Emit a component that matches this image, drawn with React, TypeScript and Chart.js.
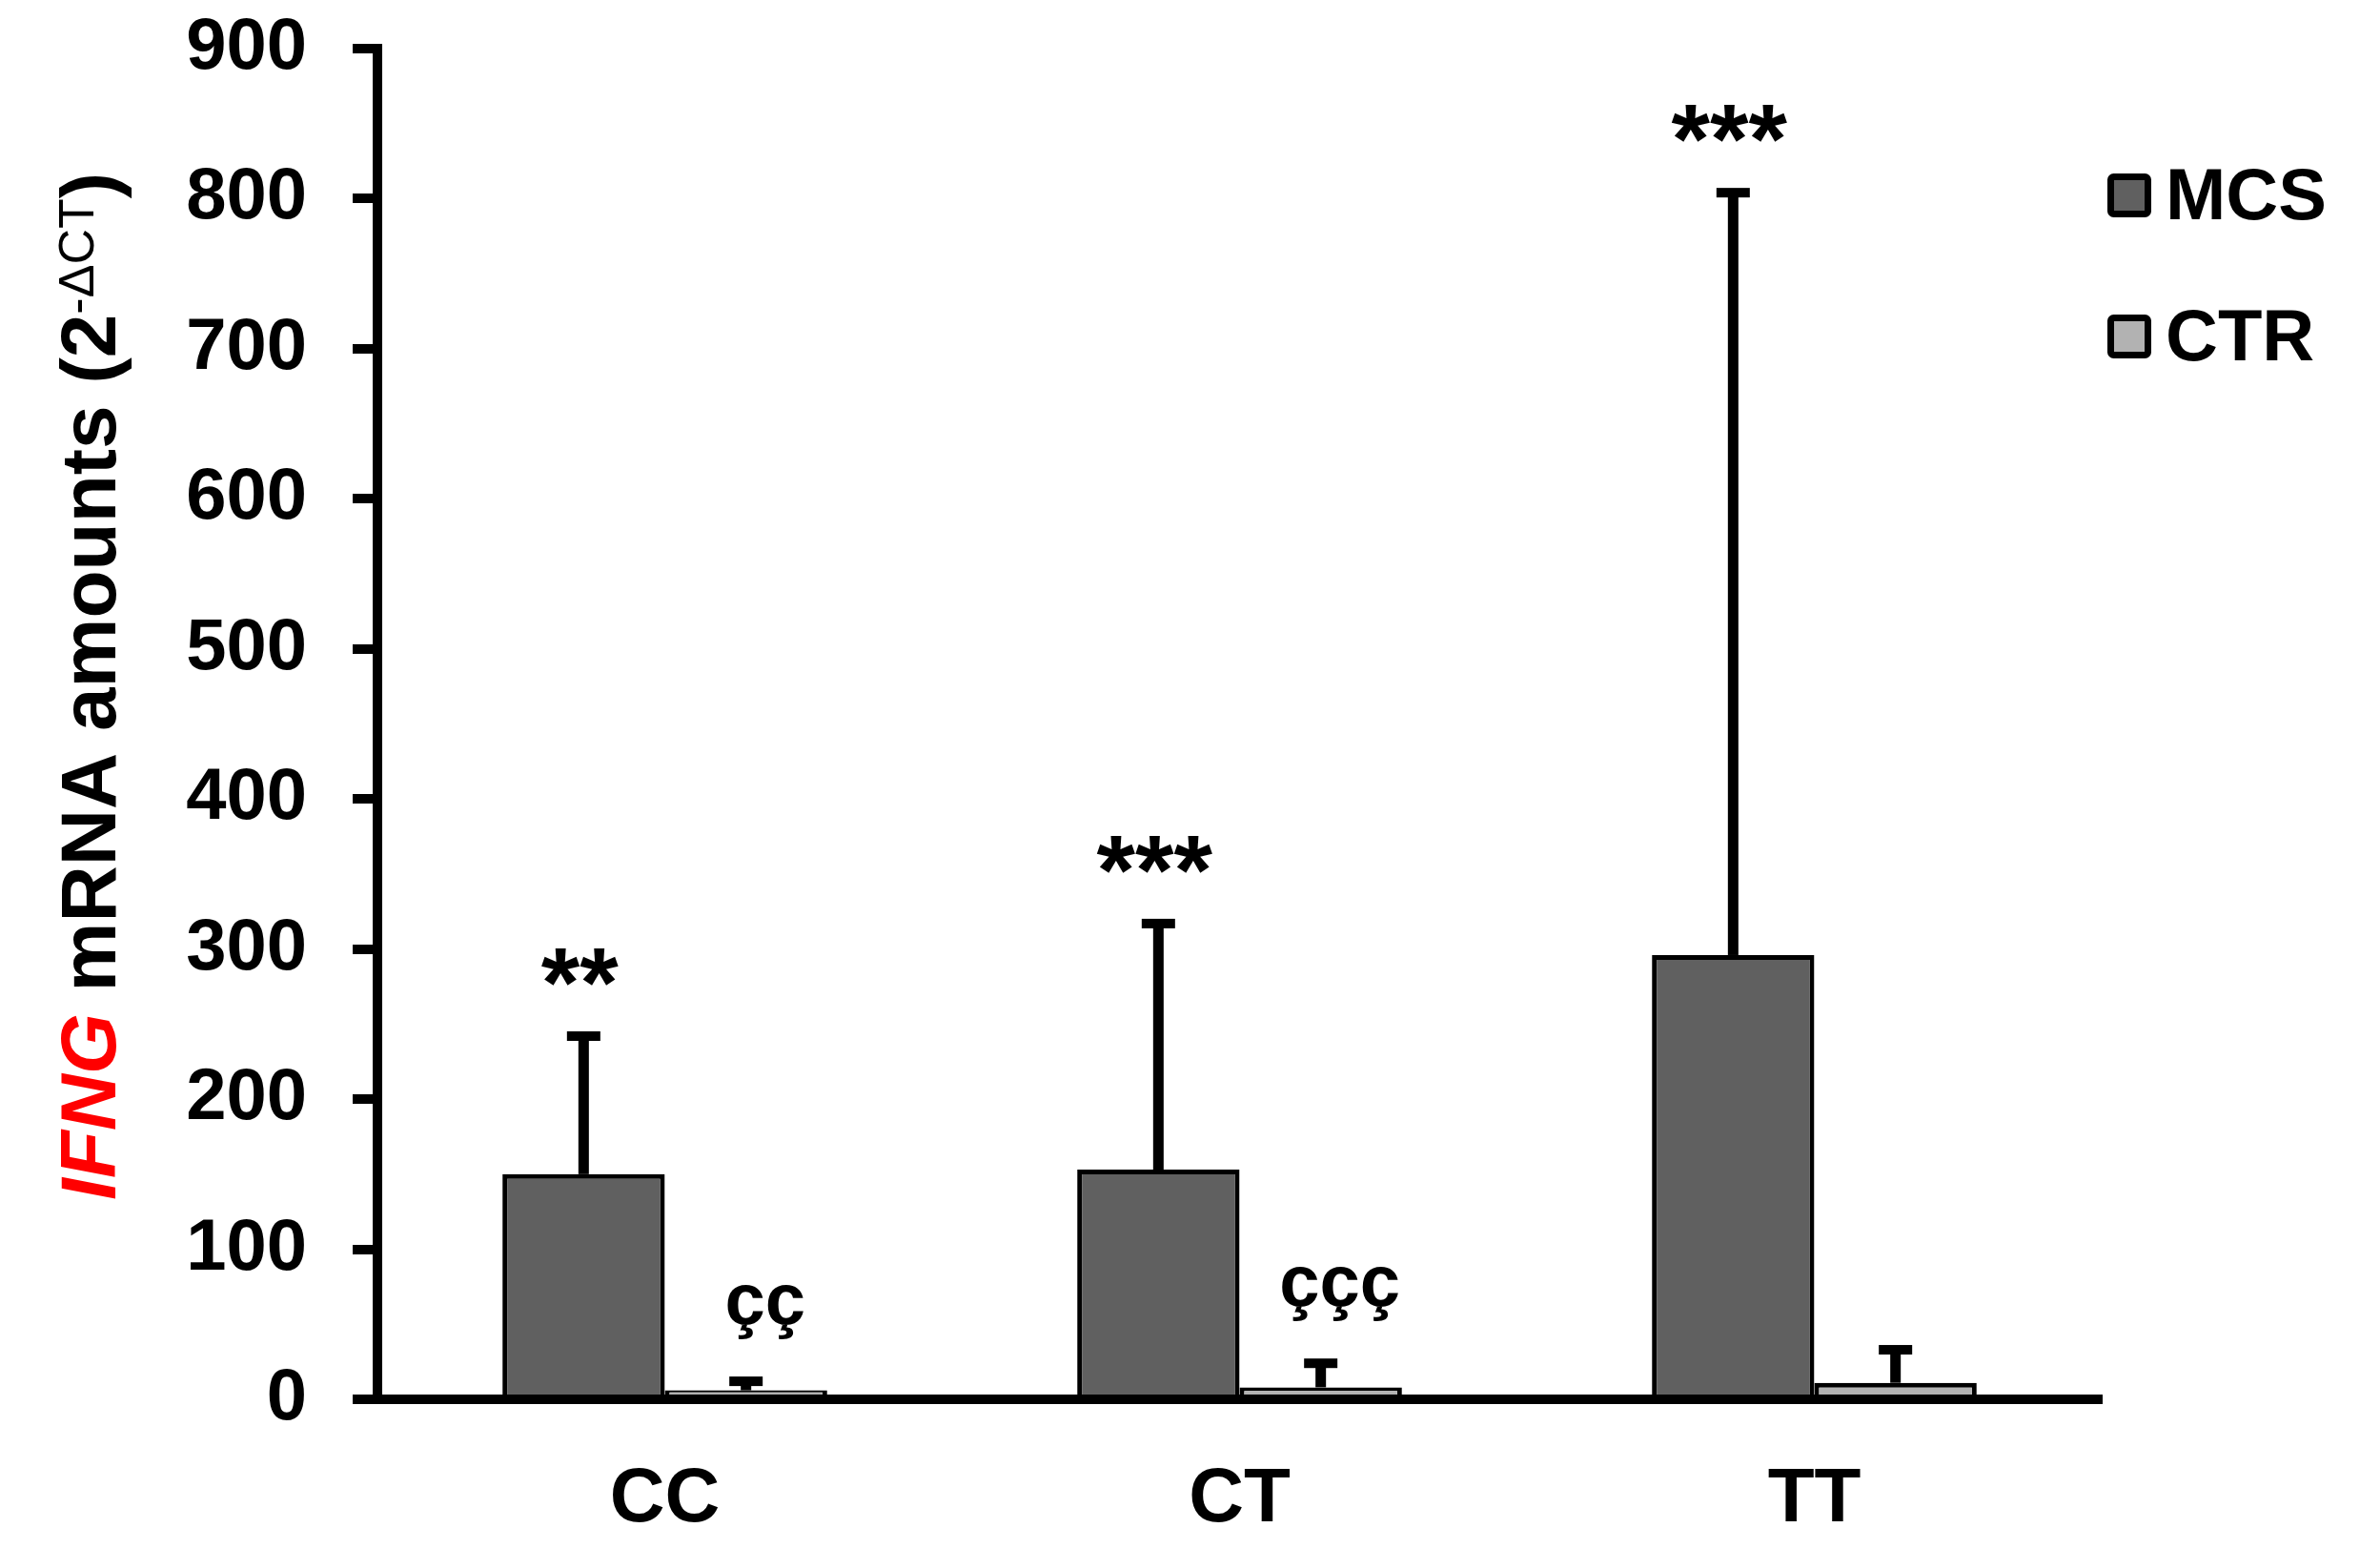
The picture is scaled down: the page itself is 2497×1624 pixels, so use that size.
import React, { useEffect, useRef } from 'react'
import { Chart, registerables } from 'chart.js'

Chart.register(...registerables)

// data
const genotypes = ['CC', 'CT', 'TT']
const seriesNames = ['MCS', 'CTR']
const mcsMeans = [150, 153, 296]
const mcsErrors = [92, 164, 508]
const ctrMeans = [6, 8, 11]
const ctrErrors = [6, 16, 22]
const mcsMarks = ['**', '***', '***']
const ctrMarks = ['çç', 'ççç', '']
const yMax = 900
const yStep = 100

const FONT = '"Liberation Sans", Arial, sans-serif'
const seriesColors = ['#606060', '#b2b2b2']

const errorBarsPlugin = {
  id: 'errorBars',
  afterDatasetsDraw(chart: any) {
    const ctx = chart.ctx
    const yScale = chart.scales.y
    ctx.save()
    chart.data.datasets.forEach((ds: any, di: number) => {
      const meta = chart.getDatasetMeta(di)
      meta.data.forEach((bar: any, i: number) => {
        const top = yScale.getPixelForValue(ds.data[i] + ds.errors[i])
        ctx.fillStyle = '#000'
        ctx.fillRect(bar.x - 5.5, top, 11, bar.y - top)
        ctx.fillRect(bar.x - 17.5, top - 5, 35, 10)

        const mark = ds.marks[i]
        if (!mark) return
        ctx.textAlign = 'center'
        ctx.textBaseline = 'alphabetic'
        if (mark.startsWith('*')) {
          ctx.font = `bold 104px ${FONT}`
          ctx.fillText(mark, bar.x - 4, top - 20)
        } else {
          ctx.font = `bold 76px ${FONT}`
          ctx.fillText(mark, bar.x + 20, top - 60)
        }
      })
    })
    ctx.restore()
  },
}

const legendPlugin = {
  id: 'sideLegend',
  afterDraw(chart: any) {
    const ctx = chart.ctx
    ctx.save()
    chart.data.datasets.forEach((ds: any, di: number) => {
      const cy = 205 + di * 148
      ctx.fillStyle = ds.backgroundColor
      ctx.strokeStyle = '#000'
      ctx.lineWidth = 7
      ctx.beginPath()
      ctx.roundRect(2214.5, cy - 19.5, 39, 39, 3)
      ctx.fill()
      ctx.stroke()
      ctx.fillStyle = '#000'
      ctx.font = `bold 76px ${FONT}`
      ctx.textAlign = 'left'
      ctx.textBaseline = 'alphabetic'
      ctx.fillText(ds.label, 2272, cy + 25)
    })
    ctx.restore()
  },
}

const yTitlePlugin = {
  id: 'yTitle',
  afterDraw(chart: any) {
    const ctx = chart.ctx
    const parts = [
      { text: 'IFNG', font: `italic bold 82px ${FONT}`, color: '#ff0000', rise: 0 },
      { text: ' mRNA amounts (2', font: `bold 82px ${FONT}`, color: '#000', rise: 0 },
      { text: '-ΔCT', font: `52px ${FONT}`, color: '#000', rise: 23 },
      { text: ')', font: `bold 82px ${FONT}`, color: '#000', rise: 0 },
    ]
    ctx.save()
    let total = 0
    const widths = parts.map((p) => {
      ctx.font = p.font
      const w = ctx.measureText(p.text).width
      total += w
      return w
    })
    ctx.translate(121, 720)
    ctx.rotate(-Math.PI / 2)
    ctx.textAlign = 'left'
    ctx.textBaseline = 'alphabetic'
    let x = -total / 2
    parts.forEach((p, i) => {
      ctx.font = p.font
      ctx.fillStyle = p.color
      ctx.fillText(p.text, x, -p.rise)
      x += widths[i]
    })
    ctx.restore()
  },
}

const App = () => {
  const chartRef = useRef<HTMLCanvasElement>(null)

  useEffect(() => {
    if (!chartRef.current) return
    const ctx = chartRef.current.getContext('2d')
    if (!ctx) return

    const chart = new Chart(ctx, {
      type: 'bar',
      data: {
        labels: genotypes,
        datasets: [
          {
            label: seriesNames[0],
            data: mcsMeans,
            errors: mcsErrors,
            marks: mcsMarks,
            backgroundColor: seriesColors[0],
            borderColor: '#000',
            borderWidth: 5,
          },
          {
            label: seriesNames[1],
            data: ctrMeans,
            errors: ctrErrors,
            marks: ctrMarks,
            backgroundColor: seriesColors[1],
            borderColor: '#000',
            borderWidth: 5,
          },
        ] as any,
      },
      options: {
        animation: false,
        responsive: true,
        maintainAspectRatio: false,
        layout: { padding: { top: 51, right: 292, bottom: 0, left: 0 } },
        categoryPercentage: 0.565,
        barPercentage: 1,
        plugins: {
          legend: { display: false },
          tooltip: { enabled: false },
        },
        scales: {
          x: {
            grid: { display: true, drawOnChartArea: false, drawTicks: false },
            border: { display: true, color: '#000', width: 10 },
            ticks: {
              color: '#000',
              padding: 58,
              font: { family: FONT, size: 80, weight: 'bold' },
            },
            afterFit: (scale: any) => {
              scale.height = 156
            },
          },
          y: {
            min: 0,
            max: yMax,
            ticks: {
              stepSize: yStep,
              color: '#000',
              padding: 48,
              font: { family: FONT, size: 76, weight: 'bold' },
            },
            grid: {
              drawOnChartArea: false,
              drawTicks: true,
              tickLength: 26,
              lineWidth: 10,
              color: '#000',
            },
            border: { display: true, color: '#000', width: 10 },
            afterFit: (scale: any) => {
              scale.width = 396
              scale.paddingTop = 0
              scale.paddingBottom = 0
            },
          },
        },
      } as any,
      plugins: [errorBarsPlugin, legendPlugin, yTitlePlugin],
    })

    return () => {
      chart.destroy()
    }
  }, [])

  return (
    <div style={{ position: 'fixed', left: 0, top: 0, width: 2497, height: 1624, background: '#fff' }}>
      <canvas ref={chartRef} />
    </div>
  )
}

export default App
